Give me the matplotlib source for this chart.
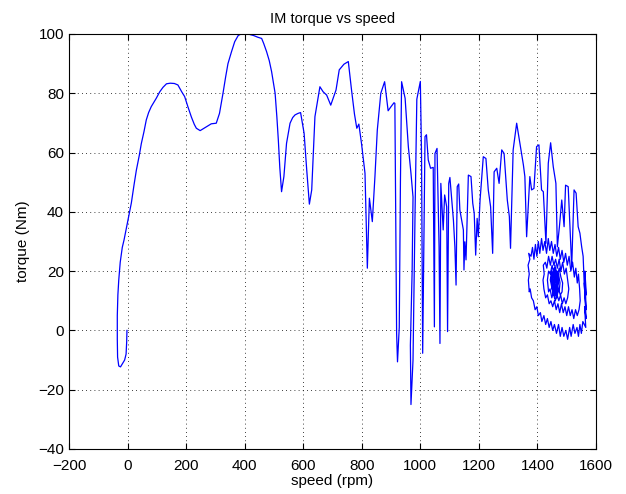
import matplotlib
matplotlib.use("Agg")
import matplotlib.pyplot as plt

plt.rcParams['font.family'] = ['Liberation Sans', 'DejaVu Sans']

speed_main = [-2, -3, -5, -10, -16, -24, -30, -34, -35, -35, -33, -30, -25, -18, -12, -5, 5, 13, 22, 30,
              40, 47, 56, 64, 72, 81, 90, 98, 110, 121, 133, 146, 160, 172, 185, 195, 206, 218, 228, 235,
              248, 258, 269, 286, 303, 314, 320, 326, 335, 343, 355, 366, 378, 388, 400, 411, 430, 445, 458, 465,
              475, 484, 492, 504, 510, 515, 520, 526, 534, 543, 555, 564, 572, 582, 591, 603, 612, 621, 629, 640,
              657, 668, 680, 694, 712, 723, 739, 754, 765, 775, 783, 790, 799, 811, 819, 826, 836, 845, 853, 865,
              878, 890, 900, 910, 913, 919, 922, 928, 932, 936, 948, 959, 968, 975, 972, 966, 968, 975, 982, 988,
              1000, 1004, 1008, 1012, 1016, 1021, 1027, 1035, 1044, 1048, 1050, 1057, 1064, 1067, 1070, 1078, 1083, 1090, 1093, 1097,
              1101, 1113, 1118, 1122, 1126, 1131, 1135, 1147, 1149, 1152, 1156, 1164, 1173, 1179, 1184, 1189, 1194, 1198, 1204, 1215,
              1224, 1232, 1240, 1247, 1252, 1261, 1269, 1278, 1286, 1297, 1304, 1308, 1317, 1329, 1340, 1352, 1357, 1363, 1374, 1380,
              1388, 1397, 1405, 1414, 1420, 1429, 1437, 1445, 1454, 1463, 1468, 1475, 1483, 1491, 1496, 1505, 1511, 1517, 1525, 1532,
              1539, 1545, 1551, 1556, 1560, 1566]
torque_main = [0, -4, -8, -10, -11, -12.3, -12, -9, -3, 5, 12, 17, 23, 28, 30.5, 34, 39, 43, 49, 54,
               59, 63, 67, 71, 73.5, 75.5, 77, 78.3, 80.5, 82, 83.2, 83.4, 83.3, 82.8, 80.5, 78.9, 75.5, 72, 69.5, 68.2,
               67.4, 68, 68.7, 69.7, 69.9, 73.2, 76.5, 80, 85.5, 90, 94, 97.4, 99.5, 100, 100.2, 100, 99.5, 98.9, 98.5, 96.8,
               94, 91, 87.3, 80, 72, 64.2, 55, 46.8, 51.9, 63.1, 69.9, 71.8, 72.7, 73.2, 73.5, 66.5, 54.1, 42.6, 47.4, 72.1,
               82.2, 80.5, 79.4, 76, 81.1, 87.9, 89.8, 90.7, 81.1, 73, 68.2, 69.6, 63.1, 53, 21, 44.6, 36.7, 52, 67.6, 80,
               83.9, 74.1, 75.5, 76.8, 76.6, -1, -10.6, 1, 50, 83.9, 78.3, 62, 53, 45, 20, -5, -25, -10, 40, 78,
               84, 60, -7.7, 30, 65.4, 66, 57.5, 54.7, 55, 1.2, 59.7, 61.4, 28.2, -4.4, 49.6, 33.9, 45.7, 41.7, -0.4, 49.6,
               51.6, 37.2, 28.2, 15.3, 48.5, 49.4, 40.6, 33.9, 20.4, 29.9, 23.8, 52.4, 51.9, 42.9, 39.5, 25.4, 37.8, 31.6, 44, 58.6,
               58, 47.4, 41.7, 26, 53.5, 54.7, 49.6, 60.9, 59.7, 44, 38.4, 27.7, 60.9, 69.9, 63.1, 55.8, 51.9, 31.6, 51.9, 47.4,
               47.9, 62, 62.6, 47.4, 46.8, 29.4, 56.4, 63.3, 55.2, 49.6, 28.2, 35, 44, 35, 49, 48.5, 35, 21.5, 47.4, 46.3,
               35, 32.8, 28.2, 25, 15, 7]

speed_spiral = [1562, 1567, 1560, 1566, 1561, 1565, 1555, 1550, 1545, 1540, 1535, 1528, 1522, 1515, 1510, 1503, 1497, 1490, 1484, 1478,
                1472, 1465, 1458, 1452, 1446, 1440, 1434, 1428, 1422, 1415, 1410, 1403, 1398, 1392, 1386, 1380, 1375, 1372, 1369, 1372,
                1368, 1374, 1370, 1378, 1383, 1388, 1393, 1398, 1403, 1408, 1414, 1419, 1425, 1431, 1437, 1442, 1448, 1454, 1460, 1466,
                1472, 1478, 1484, 1490, 1496, 1502, 1508, 1514, 1520, 1526, 1531, 1536, 1540, 1544, 1546, 1542, 1536, 1530, 1524, 1518,
                1512, 1506, 1500, 1494, 1488, 1482, 1476, 1470, 1464, 1458, 1452, 1446, 1440, 1434, 1428, 1422, 1419, 1423, 1420, 1427,
                1432, 1438, 1444, 1450, 1456, 1462, 1468, 1474, 1480, 1486, 1492, 1498, 1503, 1507, 1503, 1497, 1491, 1485, 1479, 1473,
                1467, 1461, 1455, 1449, 1443, 1438, 1434, 1438, 1444, 1450, 1456, 1462, 1468, 1474, 1480, 1486, 1484, 1478, 1472, 1466,
                1460, 1454, 1448, 1444, 1448, 1454, 1460, 1466, 1472, 1477, 1474, 1468, 1462, 1456, 1450, 1448, 1455, 1461, 1467, 1472,
                1466, 1458, 1452, 1450, 1457, 1464, 1470, 1463, 1456, 1460, 1466, 1458, 1453, 1462, 1468, 1455, 1460]
torque_spiral = [20, 12, 16, 4, 8, 1, 3, -1, 2, -2, 1, -1, 2, -2, 1, -3, 0, -2, 1, -2,
                 2, -1, 2, 0, 3, 1, 4, 2, 5, 3, 6, 5, 8, 7, 10, 11, 14, 13, 17, 19,
                 22, 24, 26, 25, 28, 24, 29, 25, 30, 26, 31, 27, 30, 26, 31, 27, 30, 26, 29, 25,
                 28, 24, 27, 23, 26, 22, 25, 20, 23, 18, 21, 16, 19, 14, 10, 7, 5, 7, 4, 7,
                 5, 8, 5, 8, 6, 9, 6, 9, 7, 10, 8, 10, 9, 12, 11, 14, 17, 19, 22, 23,
                 21, 25, 22, 25, 22, 24, 21, 24, 20, 23, 19, 21, 17, 14, 11, 9, 11, 9, 12, 10,
                 12, 10, 13, 11, 14, 13, 17, 20, 19, 22, 19, 21, 18, 21, 18, 16, 13, 12, 14, 11,
                 14, 12, 15, 17, 20, 18, 21, 17, 19, 16, 13, 15, 12, 15, 14, 18, 20, 17, 20, 16,
                 13, 16, 13, 17, 21, 16, 18, 12, 18, 22, 14, 11, 16, 19, 13, 14, 18]

xticks = [-200, 0, 200, 400, 600, 800, 1000, 1200, 1400, 1600]
yticks = [-40, -20, 0, 20, 40, 60, 80, 100]

fig = plt.figure(figsize=(6.26, 4.94), dpi=100)
ax = fig.add_axes([0.1102, 0.0911, 0.8419, 0.8401])
ax.plot(speed_main + speed_spiral, torque_main + torque_spiral, color='#0000ff', lw=0.9)
ax.set_xlim(-200, 1600)
ax.set_ylim(-40, 100)
ax.set_xticks(xticks)
ax.set_yticks(yticks)
ax.grid(True, color='black', linestyle=(0, (1, 4)), linewidth=0.6)
ax.tick_params(direction='in', top=True, right=True, labelsize=11, length=4)
ax.tick_params(axis='x', pad=7)
for s in ax.spines.values():
    s.set_linewidth(0.8)
ax.set_xlabel('speed (rpm)', fontsize=11, labelpad=1)
ax.set_ylabel('torque (Nm)', fontsize=11, labelpad=6)
ax.set_title('IM torque vs speed', fontsize=10.5, pad=8)
fig.savefig('out.png', dpi=100)
